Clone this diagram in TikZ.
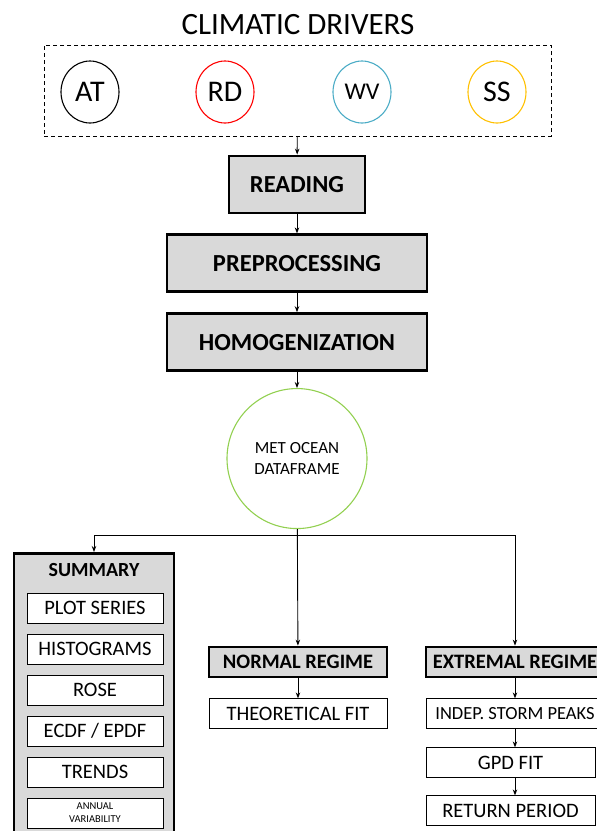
\documentclass[tikz,border=0pt]{standalone}
\usepackage{fontspec}
\setmainfont{Carlito}
\usetikzlibrary{positioning,arrows.meta,shapes.geometric}

\definecolor{boxgray}{HTML}{D9D9D9}
\definecolor{rdred}{HTML}{FF0000}
\definecolor{wvblue}{HTML}{4BACC6}
\definecolor{ssgold}{HTML}{FFC000}
\definecolor{metgreen}{HTML}{92D050}

\begin{document}
\begin{tikzpicture}[x=1pt, y=1pt, node distance=19pt,
  >={Stealth[length=6pt,width=4.5pt]},
  every path/.style={line width=0.9pt},
  driver/.style={draw, ellipse, line width=1.1pt, minimum width=58pt, minimum height=62pt, inner sep=0pt,
    font=\fontsize{30}{34}\selectfont},
  proc/.style={draw, line width=2.8pt, fill=boxgray, minimum width=260pt, minimum height=57pt,
    font=\fontsize{24.5}{28}\selectfont\bfseries},
  regime/.style={draw, line width=2.8pt, fill=boxgray, minimum width=178pt, minimum height=30pt,
    font=\fontsize{20.5}{24}\selectfont\bfseries},
  task/.style={draw, line width=1pt, fill=white, minimum width=178pt, minimum height=30pt,
    font=\fontsize{20.5}{24}\selectfont},
  sumitem/.style={draw, line width=1pt, fill=white, minimum width=136pt, minimum height=30pt,
    font=\fontsize{20.5}{24}\selectfont}]
  \useasboundingbox (0,0) rectangle (597,-831);

  % climatic drivers
  \node[font=\fontsize{31}{36}\selectfont] (title) at (298,-25) {CLIMATIC DRIVERS};
  \node[draw, dashed, dash pattern=on 4pt off 3pt, minimum width=507pt, minimum height=91pt] (drivers) at (297.5,-90.5) {};
  \node[driver] (at) at (90,-92) {AT};
  \node[driver, draw=rdred] (rd) at (225,-92) {RD};
  \node[driver, draw=wvblue, font=\fontsize{24}{28}\selectfont] (wv) at (362,-92) {WV};
  \node[driver, draw=ssgold] (ss) at (497,-92) {SS};

  % processing chain
  \node[proc, minimum width=136pt] (reading) at (297,-184.5) {READING};
  \node[proc] (prep) [below=of reading] {PREPROCESSING};
  \node[proc] (homog) [below=of prep] {HOMOGENIZATION};
  \node[draw=metgreen, circle, line width=1.1pt, minimum size=140pt, align=center,
    font=\fontsize{17}{21}\selectfont] (met) [below=16pt of homog] {MET OCEAN\\DATAFRAME};

  \draw[->] (drivers) -- (reading);
  \draw[->] (reading) -- (prep);
  \draw[->] (prep) -- (homog);
  \draw[->] (homog) -- (met);

  % summary
  \node[draw, line width=2.8pt, fill=boxgray, minimum width=160pt, minimum height=300pt, anchor=north]
    (summary) at (94,-552) {};
  \node[font=\fontsize{20}{24}\selectfont\bfseries] (sumtitle) at (94,-570) {SUMMARY};
  \node[sumitem] (plot) at (95,-608) {PLOT SERIES};
  \node[sumitem] (hist) [below=10pt of plot] {HISTOGRAMS};
  \node[sumitem] (rose) [below=10pt of hist] {ROSE};
  \node[sumitem] (ecdf) [below=10pt of rose] {ECDF / EPDF};
  \node[sumitem] (trends) [below=10pt of ecdf] {TRENDS};
  \node[sumitem, align=center, font=\fontsize{10.5}{13}\selectfont] (annual) [below=10pt of trends]
    {ANNUAL\\VARIABILITY};

  % regimes
  \node[regime] (normal) at (298,-662) {NORMAL REGIME};
  \node[task] (theo) [below=20pt of normal] {THEORETICAL FIT};
  \node[regime] (extremal) at (515,-662) {EXTREMAL REGIME};
  \node[task, font=\fontsize{18.5}{22}\selectfont] (peaks) [below=20pt of extremal] {INDEP. STORM PEAKS};
  \node[task, minimum width=169pt, anchor=north west] (gpd) at ([yshift=-18pt]peaks.south west) {GPD FIT};
  \node[task, minimum width=169pt] (ret) [below=17pt of gpd] {RETURN PERIOD};

  \coordinate (split) at (298,-535);
  \draw[->] (met) -- (normal);
  \draw[->] (split) -| (summary.north);
  \draw[->] (split) -| (extremal.north);
  \draw[->] (normal) -- (theo);
  \draw[->] (extremal) -- (peaks);
  \draw[->] (peaks) -- (peaks |- gpd.north);
  \draw[->] (peaks |- gpd.south) -- (peaks |- ret.north);
\end{tikzpicture}
\end{document}
